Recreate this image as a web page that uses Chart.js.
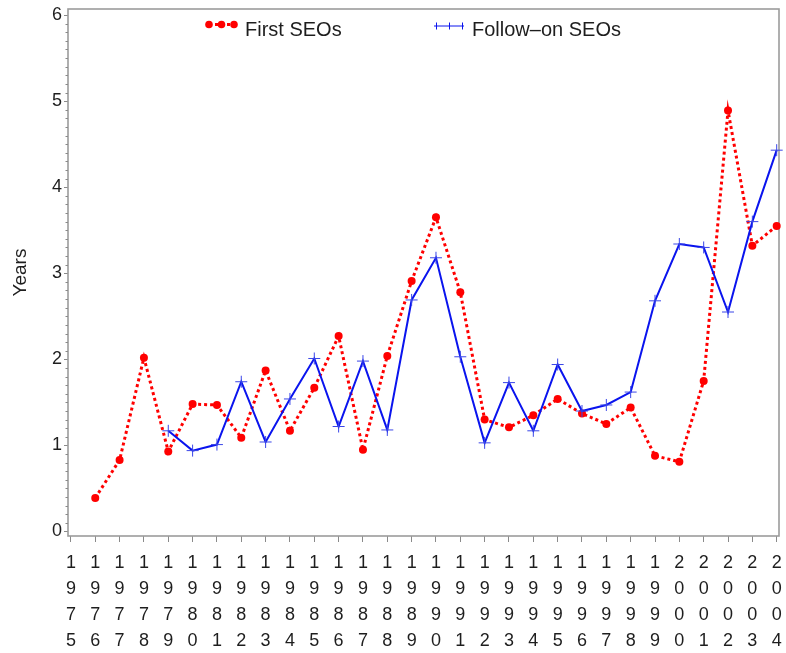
<!DOCTYPE html>
<html>
<head>
<meta charset="utf-8">
<script src="https://cdn.jsdelivr.net/npm/chart.js@4.4.1/dist/chart.umd.min.js"></script>
<style>
  html, body { margin: 0; padding: 0; background: #ffffff; }
  #wrap { width: 786px; height: 653px; }
</style>
</head>
<body>
<div id="wrap"><canvas id="chart" width="786" height="653"></canvas></div>
<script>
// Issue years on the horizontal axis
const years = [1975, 1976, 1977, 1978, 1979, 1980, 1981, 1982, 1983, 1984,
               1985, 1986, 1987, 1988, 1989, 1990, 1991, 1992, 1993, 1994,
               1995, 1996, 1997, 1998, 1999, 2000, 2001, 2002, 2003, 2004];

// Average time in years, first seasoned equity offerings
const firstSEOs = [null, 0.39, 0.83, 2.02, 0.93, 1.48, 1.47, 1.09, 1.87, 1.17,
                   1.67, 2.27, 0.95, 2.04, 2.91, 3.65, 2.78, 1.30, 1.21, 1.35,
                   1.54, 1.37, 1.25, 1.44, 0.88, 0.81, 1.75, 4.89, 3.32, 3.55];

// Average time in years, follow-on offerings
const followOnSEOs = [null, null, null, null, 1.17, 0.94, 1.01, 1.74, 1.04, 1.54,
                      2.01, 1.22, 1.98, 1.18, 2.69, 3.18, 2.03, 1.03, 1.73, 1.17,
                      1.94, 1.40, 1.47, 1.62, 2.68, 3.34, 3.30, 2.55, 3.60, 4.43];

const yTicks = [0, 1, 2, 3, 4, 5, 6];
const seriesNames = ['First SEOs', 'Follow\u2013on SEOs'];
const yTitle = 'Years';

const RED = '#ff0000';
const BLUE = '#0a14ee';
const FRAME = '#9c9c9c';
const TEXT = '#1e1e1e';
const FONT = '"Liberation Sans", Arial, Helvetica, sans-serif';

const toPoints = (vals) => years.map((yr, i) => ({ x: yr, y: vals[i] }));

// Frame around the plot, minor y ticks and the in-plot legend
const decorations = {
  id: 'decorations',
  beforeDatasetsDraw(chart) {
    const { ctx, chartArea: a, scales } = chart;
    ctx.save();
    ctx.strokeStyle = FRAME;
    ctx.lineWidth = 1.6;
    ctx.strokeRect(a.left, a.top, a.right - a.left, a.bottom - a.top);
    // minor ticks every 0.1 on the value axis
    const ys = scales.y;
    ctx.lineWidth = 1;
    ctx.strokeStyle = '#8a8a8a';
    ctx.beginPath();
    for (let k = 1; k < 60; k++) {
      if (k % 10 === 0) continue;
      const py = Math.round(ys.getPixelForValue(k / 10)) + 0.5;
      ctx.moveTo(a.left - 2.5, py);
      ctx.lineTo(a.left, py);
    }
    ctx.stroke();
    ctx.restore();
  },
  afterDraw(chart) {
    const { ctx, chartArea: a } = chart;
    ctx.save();
    const ly = a.top + 15.5;
    // First SEOs: dotted red line with round markers
    const r0 = a.left + 141;
    ctx.strokeStyle = RED;
    ctx.lineWidth = 3;
    ctx.setLineDash([3, 3]);
    ctx.beginPath();
    ctx.moveTo(r0, ly);
    ctx.lineTo(r0 + 25, ly);
    ctx.stroke();
    ctx.setLineDash([]);
    ctx.fillStyle = RED;
    [0, 12.5, 25].forEach(dx => {
      ctx.beginPath();
      ctx.arc(r0 + dx, ly, 3.8, 0, Math.PI * 2);
      ctx.fill();
    });
    ctx.fillStyle = TEXT;
    ctx.font = '20px ' + FONT;
    ctx.textBaseline = 'middle';
    ctx.textAlign = 'left';
    ctx.fillText(seriesNames[0], a.left + 177, ly + 5.5);

    // Follow-on SEOs: solid blue line with plus markers
    const b0 = a.left + 366;
    const by = ly + 1.5;
    ctx.strokeStyle = BLUE;
    ctx.lineWidth = 1;
    ctx.beginPath();
    ctx.moveTo(b0, by);
    ctx.lineTo(b0 + 30, by);
    [2, 15, 28].forEach(dx => {
      ctx.moveTo(b0 + dx + 0.5, by - 3.5);
      ctx.lineTo(b0 + dx + 0.5, by + 3.5);
    });
    ctx.stroke();
    ctx.fillText(seriesNames[1], a.left + 404, ly + 5.5);
    ctx.restore();
  }
};

new Chart(document.getElementById('chart'), {
  type: 'line',
  data: {
    datasets: [
      {
        label: seriesNames[1],
        data: toPoints(followOnSEOs),
        borderColor: BLUE,
        borderWidth: 2,
        pointStyle: 'cross',
        pointRadius: 6,
        pointBorderWidth: 1,
        pointBorderColor: '#3a46e8',
        pointBackgroundColor: '#3a46e8',
        tension: 0,
        clip: false,
        order: 0
      },
      {
        label: seriesNames[0],
        data: toPoints(firstSEOs),
        borderColor: RED,
        borderWidth: 3,
        borderDash: [3, 3],
        borderCapStyle: 'butt',
        pointStyle: 'circle',
        pointRadius: 4,
        pointBorderWidth: 0,
        pointBackgroundColor: RED,
        tension: 0,
        clip: false,
        order: 1
      }
    ]
  },
  options: {
    responsive: false,
    animation: false,
    events: [],
    layout: { padding: { top: 9, right: 6, left: 0, bottom: 0 } },
    plugins: {
      legend: { display: false },
      tooltip: { enabled: false }
    },
    scales: {
      x: {
        type: 'linear',
        min: 1974.88,
        max: 2004.095,
        afterBuildTicks: (s) => { s.ticks = years.map(v => ({ value: v })); },
        afterFit: (s) => {
          s.height = 117;
          s.paddingLeft = 0;
          s.paddingRight = 0;
        },
        border: { display: false },
        grid: {
          drawOnChartArea: false,
          drawTicks: true,
          tickLength: 6,
          tickColor: '#8a8a8a',
          tickWidth: 1
        },
        ticks: {
          autoSkip: false,
          maxRotation: 0,
          minRotation: 0,
          padding: 8,
          color: TEXT,
          font: { family: FONT, size: 18, lineHeight: '26px' },
          callback: (v) => String(v).split('')
        }
      },
      y: {
        type: 'linear',
        min: -0.052,
        max: 6.07,
        afterBuildTicks: (s) => { s.ticks = yTicks.map(v => ({ value: v })); },
        afterFit: (s) => {
          s.width = 68;
          s.paddingTop = 0;
          s.paddingBottom = 0;
        },
        border: { display: false },
        grid: {
          drawOnChartArea: false,
          drawTicks: true,
          tickLength: 4,
          tickColor: '#8a8a8a',
          tickWidth: 1
        },
        ticks: {
          padding: 2,
          color: TEXT,
          font: { family: FONT, size: 18 },
          callback: (v) => String(v)
        },
        title: {
          display: true,
          text: yTitle,
          color: TEXT,
          font: { family: FONT, size: 19 },
          padding: { top: 9, bottom: 0 }
        }
      }
    }
  },
  plugins: [decorations]
});
</script>
</body>
</html>
